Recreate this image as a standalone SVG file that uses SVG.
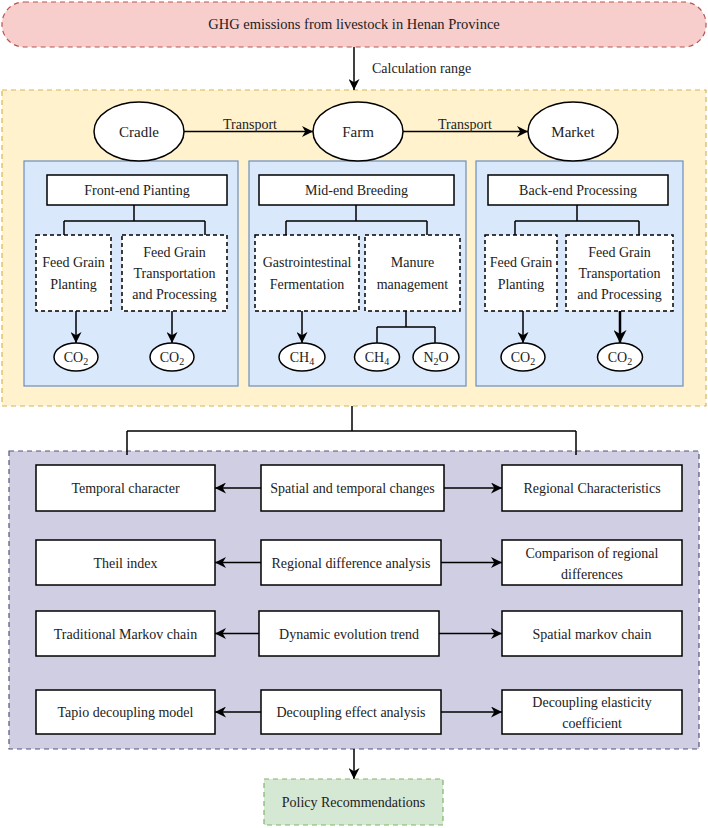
<svg xmlns="http://www.w3.org/2000/svg" width="708" height="828" viewBox="0 0 708 828" font-family="'Liberation Serif', 'DejaVu Serif', serif">
<defs>
<style>
text{font-family:'Liberation Serif','DejaVu Serif',serif;font-size:14px;fill:#222;}
.c{text-anchor:middle;}
.box{fill:#fff;stroke:#000;stroke-width:1.5;}
.dbox{fill:#fff;stroke:#000;stroke-width:1.5;stroke-dasharray:4 3;}
.ell{fill:#fff;stroke:#000;stroke-width:1.5;}
.ln{fill:none;stroke:#000;stroke-width:1.5;}
.arr{fill:none;stroke:#000;stroke-width:1.5;marker-end:url(#ah);}
.arrb{fill:none;stroke:#000;stroke-width:2.5;marker-end:url(#ahb);}
.sub{font-size:10px;}
</style>
<marker id="ah" viewBox="0 0 10 10" refX="10" refY="5" markerWidth="11" markerHeight="11" markerUnits="userSpaceOnUse" orient="auto">
<path d="M0,0 L10,5 L0,10 L3,5 z" fill="#000"/>
</marker>
<marker id="ahb" viewBox="0 0 10 10" refX="10" refY="5" markerWidth="13" markerHeight="13" markerUnits="userSpaceOnUse" orient="auto">
<path d="M0,0 L10,5 L0,10 L3,5 z" fill="#000"/>
</marker>
</defs>

<g id="containers">
<rect x="2" y="90" width="704" height="316" fill="#fff2cc" stroke="#d6b656" stroke-width="1.2" stroke-dasharray="5 4"/>
<rect x="24" y="161" width="214" height="225" fill="#dae8fc" stroke="#6c8ebf" stroke-width="1.2"/>
<rect x="249" y="161" width="217" height="225" fill="#dae8fc" stroke="#6c8ebf" stroke-width="1.2"/>
<rect x="476" y="161" width="207" height="225" fill="#dae8fc" stroke="#6c8ebf" stroke-width="1.2"/>
<rect x="9" y="451" width="690" height="298" fill="#d0cee2" stroke="#56517e" stroke-width="1.2" stroke-dasharray="5 4"/>
</g>

<g id="connectors">
<line class="arr" x1="354" y1="47" x2="354" y2="90"/>
<text x="372" y="73">Calculation range</text>
<line class="arr" x1="184" y1="131.5" x2="313" y2="131.5"/>
<text class="c" x="250" y="129">Transport</text>
<line class="arr" x1="403" y1="131.5" x2="528" y2="131.5"/>
<text class="c" x="465" y="129">Transport</text>
<path class="ln" d="M134,205 V221 M64,221 H205 M64,221 V235 M205,221 V235"/>
<line class="arr" x1="76" y1="311" x2="76" y2="343"/>
<line class="arr" x1="172" y1="311" x2="172" y2="343"/>
<path class="ln" d="M356,205 V221 M286,221 H427 M286,221 V235 M427,221 V235"/>
<line class="arr" x1="302" y1="311" x2="302" y2="343"/>
<path class="ln" d="M406,311 V327 M377,327 H435 M377,327 V343 M435,327 V343"/>
<path class="ln" d="M577,205 V221 M515,221 H639 M515,221 V235 M639,221 V235"/>
<line class="arr" x1="523" y1="311" x2="523" y2="343"/>
<line class="arrb" x1="620" y1="311" x2="620" y2="343"/>
<path class="ln" d="M352,406 V431 M127,431 H576 M127,431 V455 M576,431 V455"/>
<line class="arr" x1="261" y1="488" x2="215" y2="488"/>
<line class="arr" x1="444" y1="488" x2="502" y2="488"/>
<line class="arr" x1="261" y1="562.5" x2="215" y2="562.5"/>
<line class="arr" x1="441" y1="562.5" x2="502" y2="562.5"/>
<line class="arr" x1="259" y1="633.5" x2="215" y2="633.5"/>
<line class="arr" x1="439" y1="633.5" x2="502" y2="633.5"/>
<line class="arr" x1="261" y1="712" x2="215" y2="712"/>
<line class="arr" x1="441" y1="712" x2="502" y2="712"/>
<line class="arr" x1="354" y1="749" x2="354" y2="779"/>
</g>

<g id="n-top">
<rect x="2" y="2" width="704" height="45" rx="22" fill="#f8cecc" stroke="#b85450" stroke-width="1.2" stroke-dasharray="5 4"/>
<text class="c" x="354" y="29" style="font-size:14.5px">GHG emissions from livestock in Henan Province</text>
</g>

<g id="n-cradle"><ellipse class="ell" cx="139" cy="131.5" rx="45" ry="29.5"/><text class="c" x="139" y="137" style="font-size:15px">Cradle</text></g>
<g id="n-farm"><ellipse class="ell" cx="358" cy="131.5" rx="45" ry="29.5"/><text class="c" x="358" y="137" style="font-size:15px">Farm</text></g>
<g id="n-market"><ellipse class="ell" cx="573" cy="131.5" rx="45" ry="29.5"/><text class="c" x="573" y="137" style="font-size:15px">Market</text></g>

<g id="n-front"><rect class="box" x="47" y="175" width="180" height="30"/><text class="c" x="137" y="195">Front-end Pianting</text></g>
<g id="n-mid"><rect class="box" x="259" y="175" width="195" height="30"/><text class="c" x="356.5" y="195">Mid-end Breeding</text></g>
<g id="n-back"><rect class="box" x="488" y="175" width="180" height="30"/><text class="c" x="578" y="195">Back-end Processing</text></g>

<g id="n-fgp1"><rect class="dbox" x="36" y="235" width="75" height="76"/><text class="c" x="73.5" y="267">Feed Grain</text><text class="c" x="73.5" y="289">Planting</text></g>
<g id="n-fgt1"><rect class="dbox" x="122" y="235" width="105" height="76"/><text class="c" x="174.5" y="257">Feed Grain</text><text class="c" x="174.5" y="278">Transportation</text><text class="c" x="174.5" y="299">and Processing</text></g>
<g id="n-gas"><rect class="dbox" x="255" y="235" width="104" height="76"/><text class="c" x="307" y="267">Gastrointestinal</text><text class="c" x="307" y="289">Fermentation</text></g>
<g id="n-man"><rect class="dbox" x="365" y="235" width="95" height="76"/><text class="c" x="412.5" y="267">Manure</text><text class="c" x="412.5" y="289">management</text></g>
<g id="n-fgp3"><rect class="dbox" x="485" y="235" width="72" height="76"/><text class="c" x="521" y="267">Feed Grain</text><text class="c" x="521" y="289">Planting</text></g>
<g id="n-fgt3"><rect class="dbox" x="566" y="235" width="107" height="76"/><text class="c" x="619.5" y="257">Feed Grain</text><text class="c" x="619.5" y="278">Transportation</text><text class="c" x="619.5" y="299">and Processing</text></g>

<g id="n-co2a"><ellipse class="ell" cx="76" cy="357" rx="22" ry="14"/><text class="c" x="76" y="362">CO<tspan class="sub" dy="3">2</tspan></text></g>
<g id="n-co2b"><ellipse class="ell" cx="172" cy="357" rx="22" ry="14"/><text class="c" x="172" y="362">CO<tspan class="sub" dy="3">2</tspan></text></g>
<g id="n-ch4a"><ellipse class="ell" cx="302" cy="357" rx="23" ry="14"/><text class="c" x="302" y="362">CH<tspan class="sub" dy="3">4</tspan></text></g>
<g id="n-ch4b"><ellipse class="ell" cx="377" cy="357" rx="22.5" ry="14"/><text class="c" x="377" y="362">CH<tspan class="sub" dy="3">4</tspan></text></g>
<g id="n-n2o"><ellipse class="ell" cx="436" cy="357" rx="23" ry="14"/><text class="c" x="436" y="362">N<tspan class="sub" dy="3">2</tspan><tspan dy="-3">O</tspan></text></g>
<g id="n-co2c"><ellipse class="ell" cx="523" cy="357" rx="22" ry="14"/><text class="c" x="523" y="362">CO<tspan class="sub" dy="3">2</tspan></text></g>
<g id="n-co2d"><ellipse class="ell" cx="620" cy="357" rx="22.5" ry="14"/><text class="c" x="620" y="362">CO<tspan class="sub" dy="3">2</tspan></text></g>

<g id="n-r1l"><rect class="box" x="36" y="465" width="179" height="46"/><text class="c" x="125.5" y="493">Temporal character</text></g>
<g id="n-r1m"><rect class="box" x="261" y="465" width="183" height="46"/><text class="c" x="352.5" y="493">Spatial and temporal changes</text></g>
<g id="n-r1r"><rect class="box" x="502" y="465" width="180" height="46"/><text class="c" x="592" y="493">Regional Characteristics</text></g>

<g id="n-r2l"><rect class="box" x="36" y="540" width="179" height="45"/><text class="c" x="125.5" y="567.5">Theil index</text></g>
<g id="n-r2m"><rect class="box" x="261" y="540" width="180" height="45"/><text class="c" x="351" y="567.5">Regional difference analysis</text></g>
<g id="n-r2r"><rect class="box" x="502" y="540" width="180" height="45"/><text class="c" x="592" y="558">Comparison of regional</text><text class="c" x="592" y="579">differences</text></g>

<g id="n-r3l"><rect class="box" x="36" y="611" width="179" height="45"/><text class="c" x="125.5" y="638.5">Traditional Markov chain</text></g>
<g id="n-r3m"><rect class="box" x="259" y="611" width="180" height="45"/><text class="c" x="349" y="638.5">Dynamic evolution trend</text></g>
<g id="n-r3r"><rect class="box" x="502" y="611" width="180" height="45"/><text class="c" x="592" y="638.5">Spatial markov chain</text></g>

<g id="n-r4l"><rect class="box" x="36" y="690" width="179" height="44"/><text class="c" x="125.5" y="717">Tapio decoupling model</text></g>
<g id="n-r4m"><rect class="box" x="261" y="690" width="180" height="44"/><text class="c" x="351" y="717">Decoupling effect analysis</text></g>
<g id="n-r4r"><rect class="box" x="502" y="690" width="180" height="44"/><text class="c" x="592" y="707">Decoupling elasticity</text><text class="c" x="592" y="728">coefficient</text></g>

<g id="n-policy"><rect x="264" y="779" width="179" height="46" fill="#d5e8d4" stroke="#82b366" stroke-width="1.2" stroke-dasharray="5 4"/><text class="c" x="353.5" y="807">Policy Recommendations</text></g>
</svg>
